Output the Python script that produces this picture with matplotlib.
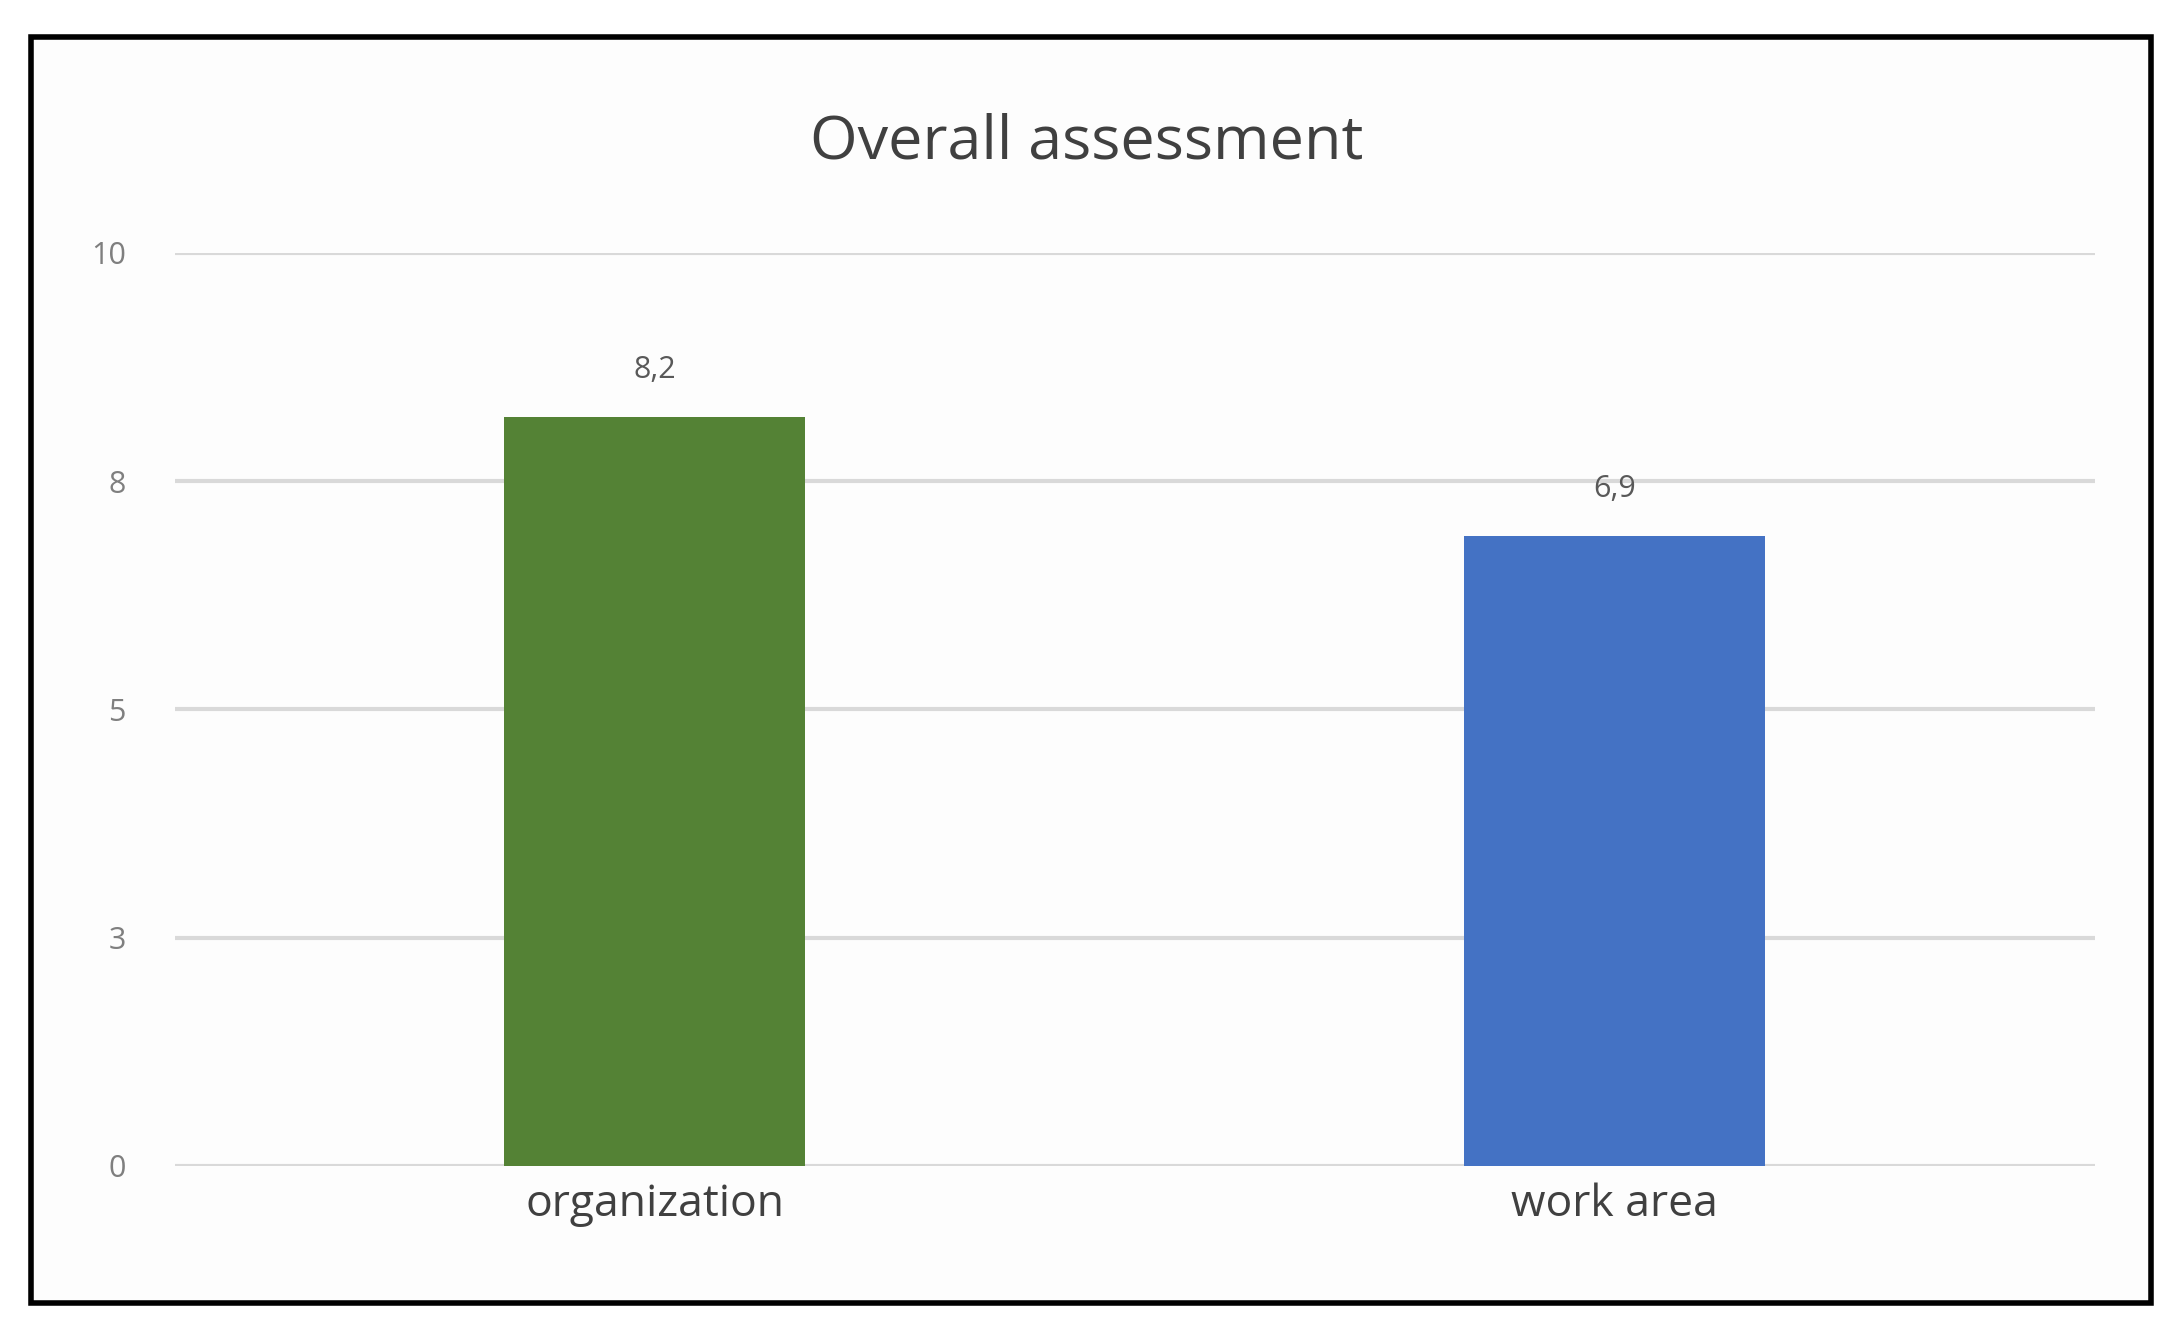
import matplotlib
matplotlib.use("Agg")
import matplotlib.pyplot as plt
from matplotlib.patches import Rectangle

categories = ["organization", "work area"]
values = [8.2, 6.9]
value_labels = ["8,2", "6,9"]
colors = ["#548235", "#4472C4"]
yticks = [0, 2.5, 5, 7.5, 10]
ytick_labels = ["0", "3", "5", "8", "10"]

plt.rcParams['font.family'] = ['Open Sans', 'DejaVu Sans']
fig = plt.figure(figsize=(21.82, 13.31), dpi=100)
fig.patch.set_facecolor("white")
fig.add_artist(Rectangle((0.014, 0.021), 0.972, 0.951, transform=fig.transFigure,
                         fill=True, facecolor="#fdfdfd", edgecolor="black", linewidth=4,
                         zorder=-10))
ax = fig.add_axes([0.080, 0.124, 0.880, 0.686])
ax.set_facecolor("none")
x = range(len(categories))
ax.bar(x, values, width=0.313, color=colors, zorder=3)
for xi, v, lab in zip(x, values, value_labels):
    ax.text(xi, v + 0.35, lab, ha="center", va="bottom", fontsize=22, color="#595959")
ax.set_xlim(-0.5, 1.5)
ax.set_ylim(0, 10)
ax.set_yticks(yticks)
ax.set_yticklabels(ytick_labels, fontsize=22, color="#7f7f7f")
ax.set_xticks(list(x))
ax.set_xticklabels(categories, fontsize=32, color="#404040")
ax.tick_params(length=0, axis="y", pad=35)
ax.tick_params(length=0, axis="x", pad=12)
ax.grid(axis="y", color="#d9d9d9", linewidth=3, zorder=0)
for s in ax.spines.values():
    s.set_visible(False)
fig.text(0.498, 0.893, "Overall assessment", ha="center", va="center", fontsize=44, color="#404040")
fig.savefig("out.png", dpi=100)
